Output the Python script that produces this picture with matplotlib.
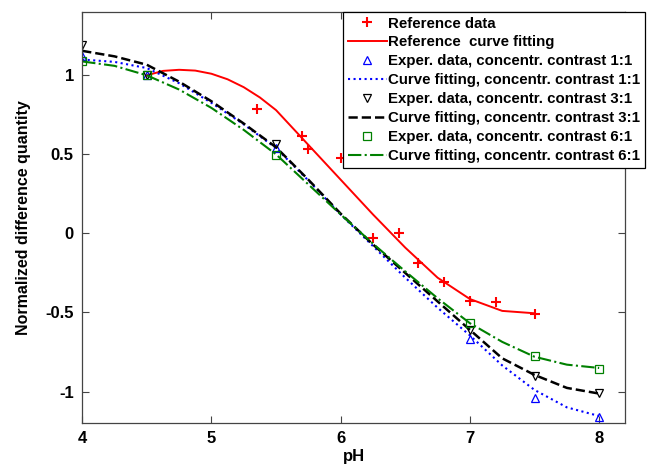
import numpy as np
import matplotlib
matplotlib.use('Agg')
import matplotlib.pyplot as plt

plt.rcParams['font.family'] = 'Liberation Sans'
plt.rcParams['font.weight'] = 'bold'
plt.rcParams['axes.unicode_minus'] = False

# reference data (red stars) and its fitted curve
ref_ph = [5.35, 5.70, 5.75, 6.0, 6.25, 6.45, 6.6, 6.8, 7.0, 7.2, 7.5]
ref_y = [0.79, 0.616, 0.537, 0.476, -0.03, 0.0, -0.19, -0.31, -0.426, -0.436, -0.51]
ref_fit_ph = [4.5, 4.625, 4.75, 4.875, 5.0, 5.125, 5.25, 5.375, 5.5, 5.75, 6.0, 6.25, 6.5, 6.75, 7.0, 7.25, 7.5]
ref_fit_y = [1.0, 1.028, 1.035, 1.03, 1.01, 0.975, 0.925, 0.86, 0.78, 0.56, 0.34, 0.12, -0.09, -0.28, -0.415, -0.49, -0.505]

# experimental data
exp_ph = [4.0, 4.5, 5.5, 7.0, 7.5, 8.0]
exp_11 = [1.12, 1.0, 0.54, -0.668, -1.04, -1.16]
exp_31 = [1.193, 1.0, 0.564, -0.61, -0.90, -1.008]
exp_61 = [1.09, 1.0, 0.497, -0.568, -0.774, -0.855]

# fitted curves
fit_ph = [4.0, 4.25, 4.5, 4.75, 5.0, 5.25, 5.5, 5.75, 6.0, 6.25, 6.5, 6.75, 7.0, 7.25, 7.5, 7.75, 8.0]
fit_11 = [1.10, 1.085, 1.046, 0.95, 0.826, 0.69, 0.54, 0.335, 0.12, -0.08, -0.28, -0.47, -0.645, -0.835, -0.99, -1.10, -1.155]
fit_31 = [1.155, 1.12, 1.067, 0.96, 0.836, 0.695, 0.545, 0.34, 0.125, -0.07, -0.25, -0.43, -0.61, -0.79, -0.895, -0.977, -1.013]
fit_61 = [1.088, 1.06, 1.0, 0.91, 0.794, 0.655, 0.50, 0.31, 0.12, -0.065, -0.24, -0.41, -0.568, -0.686, -0.78, -0.83, -0.851]

xticks = [4, 5, 6, 7, 8]
yticks = [-1, -0.5, 0, 0.5, 1]
ytick_labels = ['-1', '-0.5', '0', '0.5', '1']

fig = plt.figure(figsize=(6.47, 4.65), dpi=100)
ax = fig.add_axes([0.127, 0.090, 0.839, 0.884])

green = '#008000'
ax.plot(ref_ph, ref_y, '+', color='red', ms=6.5, mew=1.5, label='Reference data')
ax.plot(ref_fit_ph, ref_fit_y, '-', color='red', lw=1.4, label='Reference  curve fitting')
ax.plot(exp_ph, exp_11, '^', color='blue', mfc='none', ms=6, mew=0.9, label='Exper. data, concentr. contrast 1:1')
ax.plot(fit_ph, fit_11, ':', color='blue', lw=1.5, label='Curve fitting, concentr. contrast 1:1')
ax.plot(exp_ph, exp_31, 'v', color='black', mfc='none', ms=6, mew=0.9, label='Exper. data, concentr. contrast 3:1')
ax.plot(fit_ph, fit_31, '--', color='black', lw=1.8, label='Curve fitting, concentr. contrast 3:1')
ax.plot(exp_ph, exp_61, 's', color=green, mfc='none', ms=5.5, mew=0.9, label='Exper. data, concentr. contrast 6:1')
ax.plot(fit_ph, fit_61, '-.', color=green, lw=1.5, label='Curve fitting, concentr. contrast 6:1')

ax.set_xlim(4, 8.2)
ax.set_ylim(-1.2, 1.4)
ax.set_xticks(xticks)
ax.set_xticklabels([str(t) for t in xticks])
ax.set_yticks(yticks)
ax.set_yticklabels(ytick_labels)
ax.tick_params(direction='in', length=5, top=True, right=True, labelsize=12, pad=6, color='#444444')
for s in ax.spines.values():
    s.set_color('#444444')
    s.set_linewidth(0.9)

ax.set_xlabel('pH', fontsize=12, fontweight='bold', labelpad=2)
ax.set_ylabel('Normalized difference quantity', fontsize=11.5, fontweight='bold', labelpad=10)

leg = ax.legend(loc='upper right', bbox_to_anchor=(645 / 647, 1 - 12 / 465), bbox_transform=fig.transFigure,
                fancybox=False, framealpha=1, edgecolor='black', fontsize=10.8, handlelength=2.6,
                handletextpad=0.1, labelspacing=0.33, borderpad=0.3, borderaxespad=0)
leg.get_frame().set_linewidth(0.9)
for t in leg.get_texts():
    t.set_fontweight('bold')

fig.savefig('out.png', dpi=100)
